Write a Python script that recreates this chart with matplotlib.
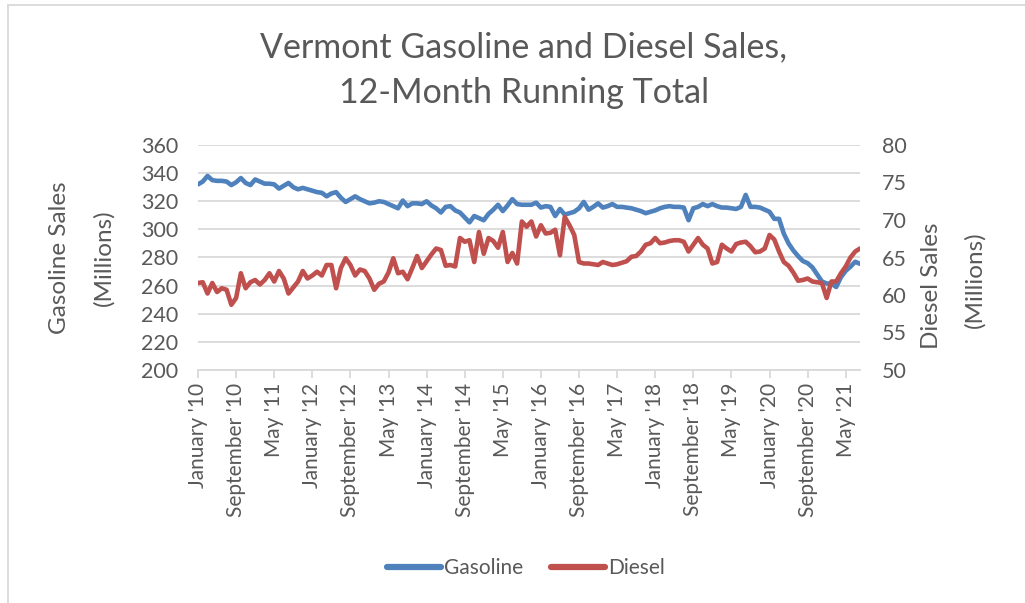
import matplotlib
matplotlib.use("Agg")
import matplotlib.pyplot as plt
from matplotlib.lines import Line2D

plt.rcParams["font.family"] = ["Lato", "DejaVu Sans"]

# monthly 12-month running totals, January 2010 .. August 2021 (millions)
start_year = 2010
month_names = ["January", "February", "March", "April", "May", "June", "July",
               "August", "September", "October", "November", "December"]

gasoline = [
    332, 334, 338, 335, 334.5, 334.5, 334, 331.5, 333.5, 336.5,
    333, 331.5, 335.5, 334, 332.5, 332.5, 332, 329, 331, 333,
    330, 328.5, 329.5, 328.5, 327.5, 326.5, 326, 323.5, 325.5, 326.5,
    322.5, 319.5, 321.5, 323.5, 321.5, 320, 318.5, 319, 320, 319.5,
    318, 316.5, 315, 320.5, 316.5, 318.5, 318.5, 318, 320, 317,
    315, 312, 316, 316.5, 313.5, 312, 308.5, 305, 309.5, 308,
    306.5, 311, 314, 317.5, 313, 317, 321.5, 318, 317.5, 317.5,
    317.5, 319, 315.5, 316.5, 316, 309.5, 314.5, 310.5, 311.5, 312.5,
    315, 319.5, 314, 316, 318.5, 315.5, 316.5, 318, 316, 316,
    315.5, 315, 314, 313, 311.5, 312.5, 313.5, 315, 316, 316.5,
    316, 316, 315.5, 306.5, 315, 316, 318, 316.5, 318, 316.5,
    315.5, 315.5, 315, 314.5, 316, 324.5, 316, 316, 315.5, 314,
    312.5, 307.5, 307.5, 297, 290, 285, 281, 277.5, 276, 273,
    268, 263, 261.5, 261.5, 259, 266, 270.5, 273.5, 277, 275.5,
]

diesel = [
    61.6, 61.7, 60.2, 61.6, 60.4, 60.9, 60.7, 58.7, 59.6, 62.9,
    60.9, 61.7, 62.0, 61.4, 62.0, 62.9, 61.8, 63.2, 62.2, 60.2,
    61.0, 61.8, 63.2, 62.2, 62.6, 63.1, 62.6, 64.0, 64.0, 60.9,
    63.6, 64.9, 64.0, 62.6, 63.4, 63.2, 62.2, 60.7, 61.5, 61.8,
    63.0, 64.9, 62.9, 63.1, 62.1, 63.6, 65.2, 63.6, 64.5, 65.4,
    66.2, 66.0, 63.9, 64.0, 63.8, 67.6, 67.1, 67.3, 64.4, 68.4,
    65.5, 67.6, 67.2, 66.3, 68.4, 64.4, 65.6, 64.2, 69.8, 69.1,
    69.8, 67.8, 69.3, 68.2, 68.3, 68.7, 65.3, 70.4, 69.3, 68.0,
    64.4, 64.2, 64.2, 64.1, 64.0, 64.4, 64.2, 64.0, 64.1, 64.3,
    64.5, 65.1, 65.2, 65.8, 66.7, 66.9, 67.6, 66.9, 67.0, 67.2,
    67.3, 67.3, 67.1, 65.8, 66.7, 67.6, 66.7, 66.2, 64.2, 64.4,
    66.7, 66.2, 65.8, 66.8, 67.0, 67.1, 66.5, 65.7, 65.8, 66.2,
    68.0, 67.4, 65.8, 64.4, 63.9, 63.0, 61.9, 62.0, 62.2, 61.8,
    61.7, 61.6, 59.6, 61.8, 61.8, 62.9, 63.8, 65.0, 65.8, 66.2,
]

labels = [f"{month_names[i % 12]} '{(start_year + i // 12) % 100:02d}"
          for i in range(len(gasoline))]
label_step = 8

blue = "#4F81BD"
red = "#C0504D"
text_grey = "#595959"
grid_grey = "#D9D9D9"

fig = plt.figure(figsize=(10.25, 6.03), dpi=100)
ax = fig.add_axes([198 / 1025, 1 - 370 / 603, 662 / 1025, 225 / 603])
ax2 = ax.twinx()

x = list(range(len(gasoline)))
ax.plot(x, gasoline, color=blue, lw=3.3, solid_capstyle="round",
        solid_joinstyle="round", zorder=3)
ax2.plot(x, diesel, color=red, lw=3.3, solid_capstyle="round",
         solid_joinstyle="round", zorder=3)

ax.set_xlim(0, len(gasoline) - 1)
ax.set_ylim(200, 360)
ax.set_yticks(range(200, 361, 20))
ax2.set_ylim(50, 80)
ax2.set_yticks(range(50, 81, 5))

ax.grid(axis="y", color=grid_grey, lw=1.3)
ax.set_axisbelow(True)

for a in (ax, ax2):
    for s in a.spines.values():
        s.set_visible(False)
ax.spines["bottom"].set_visible(True)
ax.spines["bottom"].set_color(grid_grey)
ax.spines["bottom"].set_linewidth(1.3)

ticks = x[::label_step]
ax.set_xticks(ticks)
ax.set_xticklabels([labels[i] for i in ticks], rotation=90,
                   fontsize=15, color=text_grey)
ax.tick_params(axis="x", length=6, width=1.3, color=grid_grey, pad=3)
ax.tick_params(axis="y", length=0, labelsize=15.5, labelcolor=text_grey, pad=14)
ax2.tick_params(axis="y", length=0, labelsize=15.5, labelcolor=text_grey, pad=16)

title_x = 524 / 1025
fig.text(title_x, 1 - 47 / 603, "Vermont Gasoline and Diesel Sales,",
         ha="center", va="center", fontsize=24.5, color=text_grey)
fig.text(title_x, 1 - 93 / 603, "12-Month Running Total", ha="center",
         va="center", fontsize=24.5, color=text_grey)

fig.text(60 / 1025, 1 - 258 / 603, "Gasoline Sales", rotation=90, ha="center",
         va="center", fontsize=17.5, color=text_grey)
fig.text(104 / 1025, 1 - 258 / 603, "(Millions)", rotation=90, ha="center",
         va="center", fontsize=17.5, color=text_grey)
fig.text(932 / 1025, 1 - 286 / 603, "Diesel Sales", rotation=90, ha="center",
         va="center", fontsize=17.5, color=text_grey)
fig.text(975 / 1025, 1 - 280 / 603, "(Millions)", rotation=90, ha="center",
         va="center", fontsize=17.5, color=text_grey)

handles = [Line2D([], [], color=blue, lw=4.5, solid_capstyle="round"),
           Line2D([], [], color=red, lw=4.5, solid_capstyle="round")]
fig.legend(handles, ["Gasoline", "Diesel"], loc="center",
           bbox_to_anchor=(526 / 1025, 1 - 568 / 603), ncol=2, frameon=False,
           fontsize=15, labelcolor=text_grey, handlelength=2.6,
           handletextpad=0.15, columnspacing=1.3)

# chart border (only top and left edges visible in the source)
fig.add_artist(Line2D([8 / 1025, 1], [1 - 5 / 603, 1 - 5 / 603],
                      transform=fig.transFigure, color=grid_grey, lw=1.3))
fig.add_artist(Line2D([8 / 1025, 8 / 1025], [0, 1 - 5 / 603],
                      transform=fig.transFigure, color=grid_grey, lw=1.3))

fig.savefig("out.png", dpi=100, facecolor="white")
